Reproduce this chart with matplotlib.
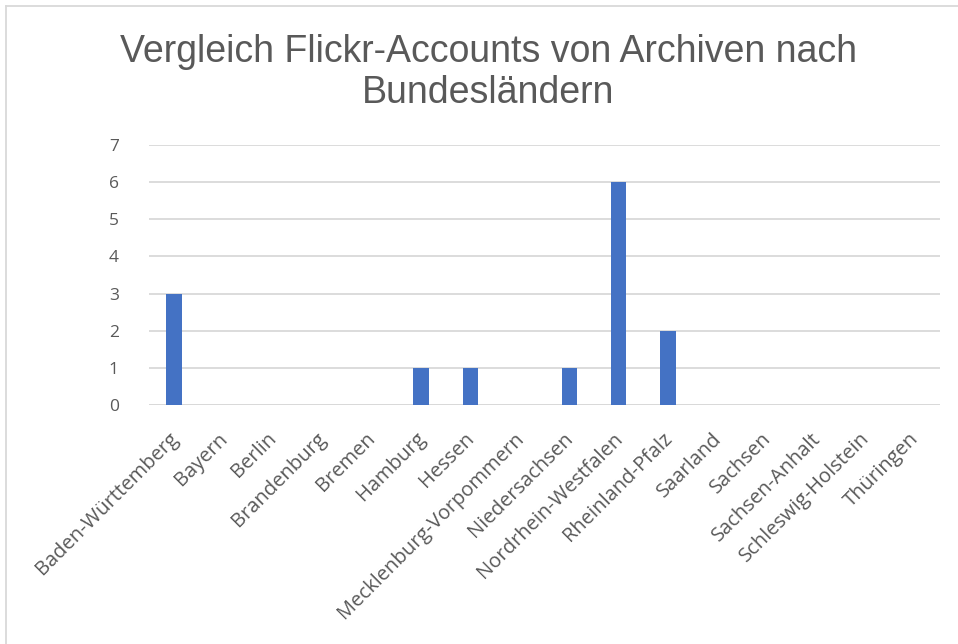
import matplotlib.pyplot as plt
import matplotlib.transforms as mtransforms
from matplotlib.lines import Line2D

# Daten: Flickr-Accounts von Archiven je Bundesland
laender = ['Baden-Württemberg', 'Bayern', 'Berlin', 'Brandenburg', 'Bremen',
           'Hamburg', 'Hessen', 'Mecklenburg-Vorpommern', 'Niedersachsen',
           'Nordrhein-Westfalen', 'Rheinland-Pfalz', 'Saarland', 'Sachsen',
           'Sachsen-Anhalt', 'Schleswig-Holstein', 'Thüringen']
accounts = [3, 0, 0, 0, 0, 1, 1, 0, 1, 6, 2, 0, 0, 0, 0, 0]
titel = ['Vergleich Flickr-Accounts von Archiven nach', 'Bundesländern']

fig = plt.figure(figsize=(9.58, 6.44), dpi=100)
ax = fig.add_axes([0.1558, 0.3711, 0.8252, 0.4037])

x = list(range(len(laender)))
ax.bar(x, accounts, width=0.31, color='#4472C4', zorder=3)

ax.set_xlim(-0.5, len(laender) - 0.5)
ax.set_ylim(0, 7)
ax.set_yticks(range(0, 8))
ax.yaxis.grid(True, color='#D9D9D9', linewidth=1.3, zorder=0)
for s in ax.spines.values():
    s.set_visible(False)
ax.axhline(0, color='#D9D9D9', linewidth=1.3, zorder=2)
ax.tick_params(axis='both', length=0, colors='#595959')
ax.tick_params(axis='y', pad=22, labelsize=12.5)
ax.tick_params(axis='x', pad=17, labelsize=14.5)
ax.set_xticks(x)
ax.set_xticklabels(laender, rotation=45, ha='right', rotation_mode='anchor',
                   fontfamily='Open Sans')
verschiebung = mtransforms.ScaledTranslation(-6 / 100, 0, fig.dpi_scale_trans)
for lbl in ax.get_xticklabels():
    lbl.set_transform(lbl.get_transform() + verschiebung)
for lbl in ax.get_yticklabels():
    lbl.set_fontfamily('Open Sans')

# Titel in zwei Zeilen
fig.text(0.5095, 1 - 62 / 644, titel[0], ha='center', va='baseline', fontsize=27,
         color='#595959', fontfamily='Liberation Sans')
fig.text(0.5095, 1 - 103 / 644, titel[1], ha='center', va='baseline', fontsize=27,
         color='#595959', fontfamily='Liberation Sans')

# Rahmen (links und oben sichtbar)
fig.add_artist(Line2D([6 / 958, 6 / 958], [0, 1 - 6 / 644], transform=fig.transFigure,
                      color='#D9D9D9', linewidth=1.3))
fig.add_artist(Line2D([6 / 958, 1], [1 - 6 / 644, 1 - 6 / 644], transform=fig.transFigure,
                      color='#D9D9D9', linewidth=1.3))

fig.savefig('out.png', dpi=100)
